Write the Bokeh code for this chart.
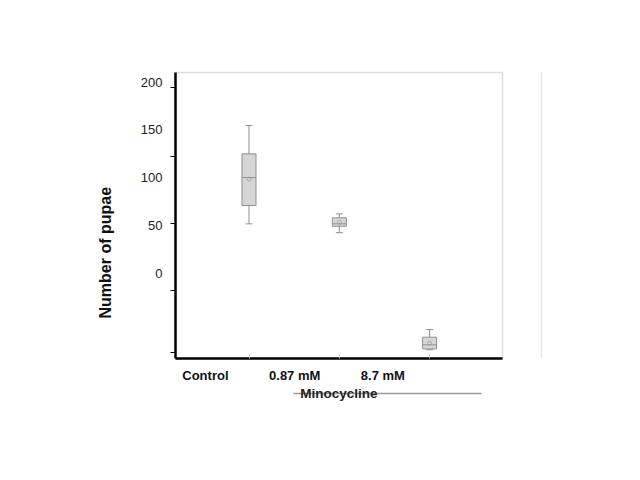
from bokeh.plotting import figure
from bokeh.models import Range1d, FixedTicker, LinearAxis, Title
from bokeh.embed import file_html
from bokeh.resources import INLINE

# ---- data ----
categories = ["Control", "0.87 mM", "8.7 mM"]
xpos = [1, 2, 3]
whisk_hi = [154.7, 62.2, -59.0]
q3 = [125.0, 58.0, -67.0]
median = [100.1, 51.7, -75.0]
mean = [98.6, 53.4, -73.3]
q1 = [70.9, 49.2, -79.2]
whisk_lo = [51.7, 42.5, -80.2]

ytick_values = [0, 50, 100, 150, 200]
ytick_marks = [194.8, 122.5, 52.4, -18.1, -82.7]
xlabel_pos = [0.517, 1.506, 2.482]
strike_bounds = (1.49, 3.578)
outer_bounds = (-108.6, 217.5)

FONT = "Liberation Sans"

p = figure(width=612, height=458, frame_width=327, frame_height=286,
           x_range=Range1d(0.186, 3.807), y_range=Range1d(-89.3, 210.2),
           output_backend="svg", toolbar_location=None,
           min_border_left=175, min_border_top=72,
           min_border_right=110, min_border_bottom=100)
p.grid.visible = False
p.outline_line_color = "#dddddd"
p.outline_line_width = 1.5

ya = p.yaxis[0]
ya.ticker = FixedTicker(ticks=ytick_values, minor_ticks=ytick_marks)
ya.major_tick_in = 0
ya.major_tick_out = 0
ya.minor_tick_in = 0
ya.minor_tick_out = 5
ya.minor_tick_line_color = "black"
ya.minor_tick_line_width = 1
ya.axis_line_color = "black"
ya.axis_line_width = 2.5
ya.major_label_standoff = 8
ya.major_label_text_font = FONT
ya.major_label_text_font_size = "13px"
ya.major_label_text_color = "#222222"

p.add_layout(Title(text="Number of pupae", align="left", offset=40,
                   standoff=48, text_font=FONT, text_font_size="16px",
                   text_font_style="bold", text_color="#111111"), "left")

xa = p.xaxis[0]
xa.ticker = FixedTicker(ticks=xlabel_pos, minor_ticks=xpos)
xa.major_label_overrides = {xlabel_pos[i]: categories[i] for i in range(3)}
xa.major_tick_in = 0
xa.major_tick_out = 0
xa.minor_tick_in = 4
xa.minor_tick_out = 0
xa.minor_tick_line_color = "#cccccc"
xa.axis_line_color = "black"
xa.axis_line_width = 2.5
xa.major_label_standoff = 9
xa.major_label_text_font = FONT
xa.major_label_text_font_size = "13px"
xa.major_label_text_font_style = "bold"
xa.major_label_text_color = "#111111"
xa.axis_label = " "
xa.axis_label_standoff = -4
xa.axis_label_text_font_size = "8px"

xb = LinearAxis(ticker=FixedTicker(ticks=[]), bounds=strike_bounds,
                axis_line_color="#9a9a9a", axis_line_width=1.5,
                major_tick_line_color=None, minor_tick_line_color=None,
                major_label_text_font_size="0px")
p.add_layout(xb, "below")

xc = LinearAxis(ticker=FixedTicker(ticks=[]), axis_line_color=None,
                major_tick_line_color=None, minor_tick_line_color=None,
                major_label_text_font_size="0px",
                axis_label="Minocycline", axis_label_standoff=-8,
                axis_label_text_font=FONT, axis_label_text_font_size="13.5px",
                axis_label_text_font_style="bold",
                axis_label_text_color="#222222")
p.add_layout(xc, "below")

p.add_layout(Title(text=" ", standoff=26, text_font_size="10px"), "right")
yr = LinearAxis(ticker=FixedTicker(ticks=[]), bounds=outer_bounds,
                axis_line_color="#e6e6e6", axis_line_width=1.5,
                major_tick_line_color=None, minor_tick_line_color=None,
                major_label_text_font_size="0px")
p.add_layout(yr, "right")

BOXC = "#d6d6d6"
LINEC = "#8f8f8f"
bw = 0.155
cw = 0.077
p.segment(x0=xpos, y0=q3, x1=xpos, y1=whisk_hi, line_color=LINEC, line_width=1)
p.segment(x0=xpos, y0=q1, x1=xpos, y1=whisk_lo, line_color=LINEC, line_width=1)
p.vbar(x=xpos, width=bw, top=q3, bottom=q1, fill_color=BOXC,
       line_color=LINEC, line_width=1)
p.segment(x0=[x - bw / 2 for x in xpos], y0=median,
          x1=[x + bw / 2 for x in xpos], y1=median, line_color=LINEC, line_width=1)
p.segment(x0=[x - cw / 2 for x in xpos], y0=whisk_hi,
          x1=[x + cw / 2 for x in xpos], y1=whisk_hi, line_color=LINEC, line_width=1)
p.segment(x0=[x - cw / 2 for x in xpos], y0=whisk_lo,
          x1=[x + cw / 2 for x in xpos], y1=whisk_lo, line_color=LINEC, line_width=1)
p.scatter(x=xpos, y=mean, marker="circle", size=4, fill_color=None,
          line_color="#a0a0a0", line_width=0.8)

open("out.html", "w").write(file_html(p, INLINE))
